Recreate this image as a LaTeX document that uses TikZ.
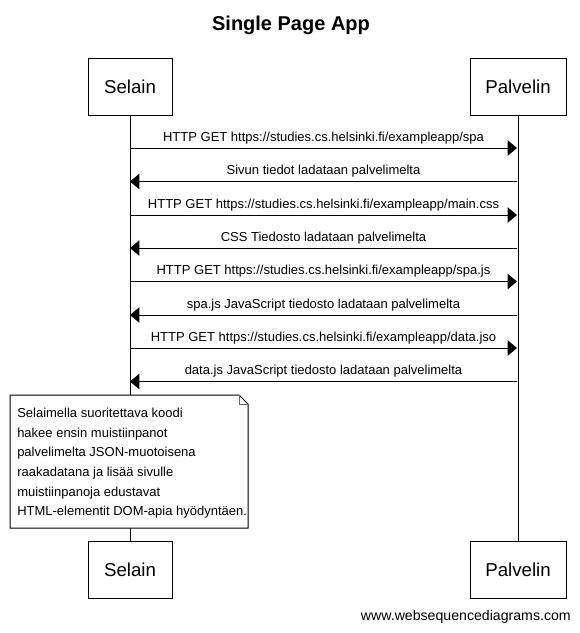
\documentclass[tikz,border=0pt]{standalone}
\usepackage{fontspec}
\setmainfont{Liberation Sans}
\usetikzlibrary{arrows.meta}
\begin{document}
\begin{tikzpicture}[x=0.75pt,y=-0.75pt,
  actor/.style={draw=black,line width=0.75pt,fill=white,inner sep=0pt,minimum height=42.75pt,font=\fontsize{14}{16}\selectfont},
  msg/.style={line width=0.75pt,-{Triangle[length=7pt,width=11.5pt]}},
  lbl/.style={font=\fontsize{9.75}{12}\selectfont,inner sep=0pt},
  life/.style={line width=0.75pt}]
\useasboundingbox (0,0) rectangle (580,633);
\node[font=\bfseries\fontsize{15}{18}\selectfont] (title) at (291,25) {Single Page App};
\node[actor,minimum width=63pt] (s0) at (130,86.5) {Selain};
\node[actor,minimum width=72pt] (p0) at (518,86.5) {Palvelin};
\node[actor,minimum width=63pt] (s9) at (130,569.5) {Selain};
\node[actor,minimum width=72pt] (p9) at (518,569.5) {Palvelin};
\draw[life] (s0) -- (s9);
\draw[life] (p0) -- (p9);
\foreach \i/\y in {1/148,2/181.5,3/215,4/248,5/281.5,6/315,7/348,8/381.5}{
  \coordinate (s\i) at (130,\y);
  \coordinate (p\i) at (517,\y);
}
\draw[msg] (s1) -- node[lbl,above=2.5pt] {HTTP GET https://studies.cs.helsinki.fi/exampleapp/spa} (p1);
\draw[msg] (p2) -- node[lbl,above=2.5pt] {Sivun tiedot ladataan palvelimelta} (s2);
\draw[msg] (s3) -- node[lbl,above=2.5pt] {HTTP GET https://studies.cs.helsinki.fi/exampleapp/main.css} (p3);
\draw[msg] (p4) -- node[lbl,above=2.5pt] {CSS Tiedosto ladataan palvelimelta} (s4);
\draw[msg] (s5) -- node[lbl,above=2.5pt] {HTTP GET https://studies.cs.helsinki.fi/exampleapp/spa.js} (p5);
\draw[msg] (p6) -- node[lbl,above=2.5pt] {spa.js JavaScript tiedosto ladataan palvelimelta} (s6);
\draw[msg] (s7) -- node[lbl,above=2.5pt] {HTTP GET https://studies.cs.helsinki.fi/exampleapp/data.jso} (p7);
\draw[msg] (p8) -- node[lbl,above=2.5pt] {data.js JavaScript tiedosto ladataan palvelimelta} (s8);
% note
\draw[line width=0.75pt,fill=white] (10,395) -- (239,395) -- (248,404) -- (248,528) -- (10,528) -- cycle;
\draw[line width=0.5pt,draw=black!60] (239,395) -- (239,404) -- (248,404);
\node[anchor=north west,align=left,inner sep=0pt,font=\fontsize{9.75}{14.7}\selectfont] (note) at (17,408)
  {Selaimella suoritettava koodi\\hakee ensin muistiinpanot\\palvelimelta JSON-muotoisena\\raakadatana ja lisää sivulle\\muistiinpanoja edustavat\\HTML-elementit DOM-apia hyödyntäen.};
\node[anchor=east,font=\fontsize{10.6}{12}\selectfont,inner sep=0pt] (www) at (571,617) {www.websequencediagrams.com};
\end{tikzpicture}
\end{document}
